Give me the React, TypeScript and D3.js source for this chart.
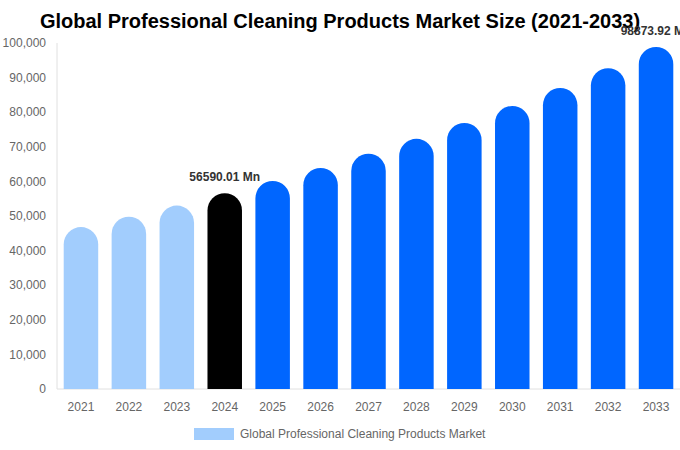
import React from "react";
import * as d3 from "d3";

const years = ["2021","2022","2023","2024","2025","2026","2027","2028","2029","2030","2031","2032","2033"];
const values = [46800, 49800, 53000, 56590.01, 60100, 63900, 68000, 72300, 76900, 81800, 87000, 92700, 98873.92];
const yTicks = [0,10000,20000,30000,40000,50000,60000,70000,80000,90000,100000];
const labeledYears = ["2024","2033"];
const title = "Global Professional Cleaning Products Market Size (2021-2033)";
const legendLabel = "Global Professional Cleaning Products Market";

const W = 680, H = 450;
const m = { left: 57, right: 0, top: 43, bottom: 61 };

function barColor(y: string) {
  const n = +y;
  if (n < 2024) return "#a2cdfd";
  if (n === 2024) return "#000000";
  return "#0066ff";
}

export default function App() {
  const x = d3.scaleBand().domain(years).range([m.left, W - m.right]).paddingInner(0.28).paddingOuter(0.14);
  const y = d3.scaleLinear().domain([0, 100000]).range([H - m.bottom, m.top]);
  const fmt = d3.format(",");
  const font = "'Liberation Sans', Arial, sans-serif";
  const bw = x.bandwidth();
  const r = bw / 2;
  return (
    <svg width={W} height={H} style={{ position: "absolute", left: 0, top: 0, fontFamily: font }}>
      <text x={340} y={28} textAnchor="middle" fontSize={20} fontWeight="bold" fill="#000">{title}</text>
      <line x1={m.left} x2={m.left} y1={m.top} y2={y(0)} stroke="#e0e0e0" />
      <line x1={m.left} x2={W} y1={y(0)} y2={y(0)} stroke="#e0e0e0" />
      {yTicks.map(t => (
        <text key={t} x={46} y={y(t)} dy="0.35em" textAnchor="end" fontSize={12} fill="#666">{fmt(t)}</text>
      ))}
      {years.map((yr, i) => {
        const x0 = x(yr)!;
        const top = y(values[i]);
        const base = y(0);
        const d = `M${x0},${base}L${x0},${top + r}A${r},${r} 0 0 1 ${x0 + bw},${top + r}L${x0 + bw},${base}Z`;
        return <path key={yr} d={d} fill={barColor(yr)} />;
      })}
      {years.map(yr => (
        <text key={yr} x={x(yr)! + bw / 2} y={411} textAnchor="middle" fontSize={12} fill="#666">{yr}</text>
      ))}
      {years.map((yr, i) => labeledYears.includes(yr) ? (
        <text key={"l" + yr} x={x(yr)! + bw / 2} y={y(values[i]) - 12} textAnchor="middle" fontSize={12} fontWeight="bold" fill="#333">{values[i].toFixed(2)} Mn</text>
      ) : null)}
      <rect x={194} y={428} width={40} height={12} fill="#a2cdfd" />
      <text x={240} y={437.5} fontSize={12} fill="#666">{legendLabel}</text>
    </svg>
  );
}
